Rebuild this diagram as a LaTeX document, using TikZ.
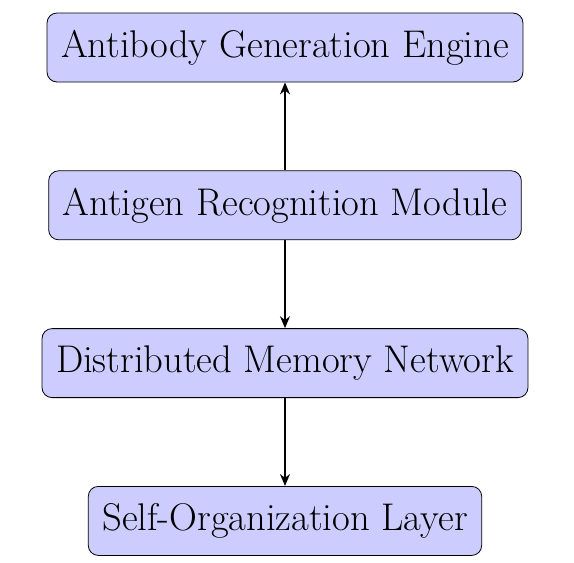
\documentclass[tikz,border=0pt]{standalone}
\usepackage{tikz}
\usetikzlibrary{positioning, arrows.meta}

\begin{document}
\begin{tikzpicture}[font=\fontsize{19.3}{23}\selectfont, >={Stealth[length=6pt, width=5pt]},
  block/.style={draw, rounded corners=5pt, fill=blue!20, minimum height=34.5pt, inner xsep=7pt},
  link/.style={->, line width=0.9pt}]

% page: 287pt x 281.5pt, top box centred at the origin
\useasboundingbox (-142.5pt,23.75pt) rectangle (144.5pt,-257.75pt);

%% ── layers ───────────────────────────────────────────────────────
\node[block] (antibody) at (0,0) {Antibody Generation Engine};
\node[block, below=44pt of antibody] (antigen) {Antigen Recognition Module};
\node[block, below=44pt of antigen]  (memory)  {Distributed Memory Network};
\node[block, below=44pt of memory]   (selforg) {Self-Organization Layer};

%% ── links ────────────────────────────────────────────────────────
\draw[link] (antigen) -- (antibody);
\draw[link] (antigen) -- (memory);
\draw[link] (memory)  -- (selforg);

\end{tikzpicture}
\end{document}
